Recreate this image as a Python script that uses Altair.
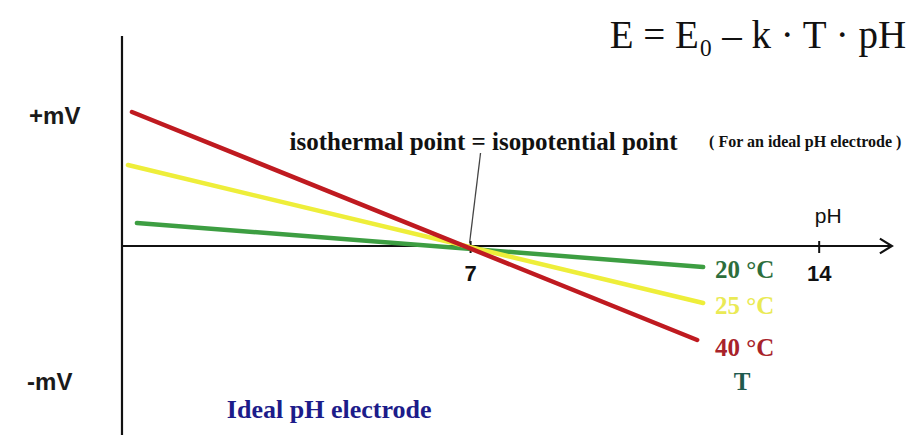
import altair as alt
import pandas as pd

# ---- data ----
series = ["20 °C", "25 °C", "40 °C"]
ph_start = [0.30, 0.12, 0.20]
ph_end = [11.67, 11.67, 11.55]
mv_start = [23, 81, 134]
mv_end = [-21, -57, -94]
line_colors = ["#3d9e42", "#eeee3a", "#bf1a20"]
label_colors = ["#2d6e3c", "#eaea55", "#a8232a"]
label_mv = [-24, -60, -102]
tick_values = [7, 14]

rows = []
for s, a, b, c, d in zip(series, ph_start, ph_end, mv_start, mv_end):
    rows.append({"series": s, "pH": a, "mV": c})
    rows.append({"series": s, "pH": b, "mV": d})
lines_df = pd.DataFrame(rows)

xs = alt.Scale(domain=[-2.289, 15.904], nice=False, zero=False)
ys = alt.Scale(domain=[-189, 238], nice=False, zero=False)


def X(field="pH"):
    return alt.X(field, type="quantitative", scale=xs, axis=None)


def Y(field="mV"):
    return alt.Y(field, type="quantitative", scale=ys, axis=None)


# axes
yaxis = alt.Chart(pd.DataFrame({"pH": [0], "mV": [210], "mV2": [-200]})).mark_rule(
    color="#111111", strokeWidth=2.2
).encode(x=X(), y=Y(), y2="mV2")

xaxis = alt.Chart(pd.DataFrame({"pH": [0], "pH2": [15.46], "mV": [0]})).mark_rule(
    color="#111111", strokeWidth=2.2
).encode(x=X(), x2="pH2", y=Y())

ticks = alt.Chart(pd.DataFrame({"pH": tick_values, "mV": [5] * 2, "mV2": [-7] * 2})).mark_rule(
    color="#111111", strokeWidth=2
).encode(x=X(), y=Y(), y2="mV2")

arrow = alt.Chart(pd.DataFrame({"pH": [15.46], "mV": [0]})).mark_point(
    shape="M-1,-0.62L0,0L-1,0.62", size=576, filled=False, color="#111111",
    strokeWidth=2.2, opacity=1
).encode(x=X(), y=Y())

leader = alt.Chart(pd.DataFrame({"pH": [7.2], "mV": [93], "pH2": [6.98], "mV2": [3]})).mark_rule(
    color="#444444", strokeWidth=1.3
).encode(x=X(), y=Y(), x2="pH2", y2="mV2")

lines = alt.Chart(lines_df).mark_line(strokeWidth=4.5, strokeCap="round").encode(
    x=X(), y=Y(),
    color=alt.Color("series:N", scale=alt.Scale(domain=series, range=line_colors), legend=None),
    detail="series:N",
)


def label(text, ph, mv, size, color="#111111", font="Liberation Sans", weight="normal",
          align="center", baseline="middle"):
    return alt.Chart(pd.DataFrame({"pH": [ph], "mV": [mv], "t": [text]})).mark_text(
        fontSize=size, color=color, font=font, fontWeight=weight, align=align, baseline=baseline
    ).encode(x=X(), y=Y(), text="t:N")


texts = [
    label("+mV", -1.35, 129, 24, weight="bold", color="#1a1a1a"),
    label("-mV", -1.45, -137, 24, weight="bold", color="#1a1a1a"),
    label("E = E\u2080 \u2013 k \u00b7 T \u00b7 pH", 12.77, 198, 39, font="Liberation Serif",
          baseline="alphabetic"),
    label("isothermal point = isopotential point", 7.26, 104, 25, font="Liberation Serif",
          weight="bold"),
    label("( For an ideal pH electrode )", 13.72, 104, 16, font="Liberation Serif", weight="bold"),
    label("pH", 14.18, 29, 21),
    label("7", 7, -28, 22, weight="bold"),
    label("14", 14, -28, 22, weight="bold"),
    label("T", 12.45, -136, 25, color="#1f5a4e", font="Liberation Serif", weight="bold"),
    label("Ideal pH electrode", 4.16, -164, 26, color="#1c1c8a", font="Liberation Serif",
          weight="bold"),
]
for s, c, m in zip(series, label_colors, label_mv):
    texts.append(label(s, 11.91, m, 25, color=c, font="Liberation Serif", weight="bold",
                       align="left"))

chart = alt.layer(yaxis, xaxis, ticks, arrow, leader, lines, *texts).properties(
    width=906, height=427, padding=0,
    autosize=alt.AutoSizeParams(type="none"),
    background="white",
).configure_view(stroke=None)

chart.save("out.html", embed_options={"renderer": "svg", "actions": False})
